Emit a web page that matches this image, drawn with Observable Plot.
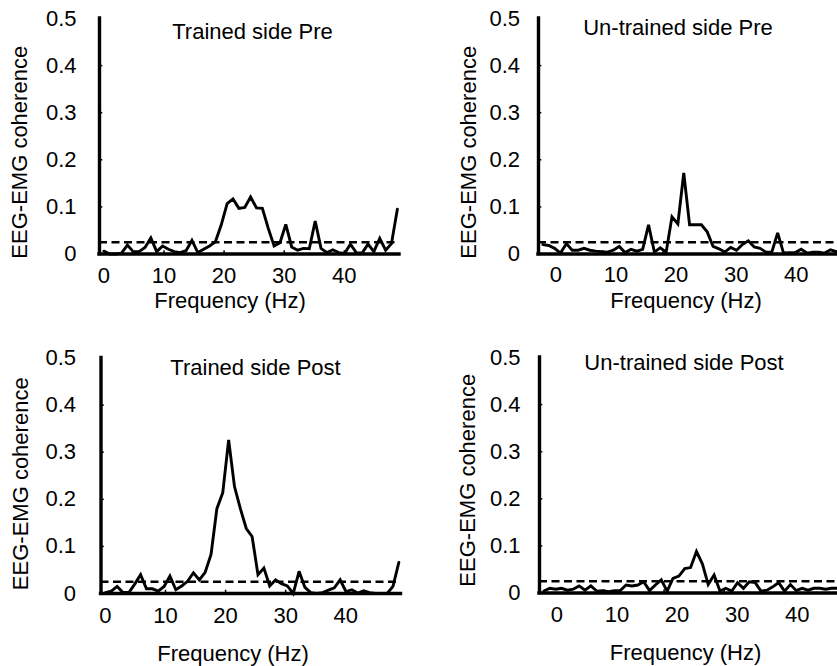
<!DOCTYPE html>
<html><head><meta charset="utf-8">
<script src="https://cdn.jsdelivr.net/npm/d3@7"></script>
<script src="https://cdn.jsdelivr.net/npm/@observablehq/plot@0.6"></script>
<style>
html,body{margin:0;padding:0;background:#fff;overflow:hidden;}
#wrap{position:relative;width:837px;height:666px;overflow:hidden;background:#fff;}
#wrap svg{position:absolute;}
</style></head><body><div id="wrap"></div>
<script>
// ---- data ----
const frequencies = [0, 0.98, 1.95, 2.93, 3.91, 4.88, 5.86, 6.84, 7.81, 8.79, 9.77, 10.74, 11.72, 12.7, 13.67, 14.65, 15.63, 16.6, 17.58, 18.55, 19.53, 20.51, 21.48, 22.46, 23.44, 24.41, 25.39, 26.37, 27.34, 28.32, 29.3, 30.27, 31.25, 32.23, 33.2, 34.18, 35.16, 36.13, 37.11, 38.09, 39.06, 40.04, 41.02, 41.99, 42.97, 43.95, 44.92, 45.9, 46.88, 47.85, 48.83];
const trainedPre = [0.006, 0, 0, 0.002, 0.019, 0.005, 0.005, 0.014, 0.034, 0.005, 0.017, 0.01, 0.005, 0.003, 0.007, 0.029, 0.003, 0.01, 0.017, 0.026, 0.062, 0.107, 0.117, 0.097, 0.099, 0.121, 0.098, 0.097, 0.055, 0.017, 0.024, 0.063, 0.015, 0.008, 0.012, 0.011, 0.07, 0.012, 0.003, 0.009, 0.003, 0.001, 0.021, 0.003, 0.002, 0.021, 0.005, 0.033, 0.008, 0.022, 0.095];
const untrainedPre = [0.02, 0.018, 0.012, 0.002, 0.022, 0.008, 0.008, 0.012, 0.008, 0.006, 0.005, 0.004, 0.008, 0.016, 0.003, 0.01, 0.006, 0.01, 0.062, 0.004, 0.013, 0.004, 0.079, 0.064, 0.172, 0.062, 0.062, 0.062, 0.047, 0.016, 0.011, 0.004, 0.014, 0.008, 0.02, 0.028, 0.015, 0.012, 0.004, 0.004, 0.045, 0.002, 0.003, 0.003, 0.01, 0.002, 0.004, 0.004, 0.002, 0.009, 0.005];
const trainedPost = [0.002, 0.005, 0.015, 0.002, 0.002, 0.02, 0.04, 0.01, 0.01, 0.005, 0.015, 0.037, 0.008, 0.016, 0.026, 0.044, 0.029, 0.045, 0.083, 0.18, 0.214, 0.326, 0.227, 0.18, 0.138, 0.121, 0.04, 0.054, 0.016, 0.029, 0.021, 0.016, 0, 0.047, 0.013, 0.002, 0, 0.002, 0.007, 0.012, 0.029, 0.004, 0.008, 0.001, 0.006, 0.002, 0, 0, 0, 0.015, 0.066];
const untrainedPost = [0.004, 0.01, 0.008, 0.01, 0.006, 0.008, 0.015, 0.006, 0.015, 0.004, 0.005, 0.003, 0.005, 0.005, 0.017, 0.015, 0.017, 0.024, 0.005, 0.017, 0.028, 0.004, 0.031, 0.036, 0.052, 0.054, 0.088, 0.062, 0.018, 0.038, 0.004, 0.01, 0.004, 0.022, 0.01, 0.024, 0.022, 0.004, 0.006, 0.013, 0.022, 0.004, 0.018, 0.005, 0.01, 0.006, 0.01, 0.01, 0.008, 0.01, 0.01];
const threshold = 0.025;
const titles = ["Trained side Pre", "Un-trained side Pre", "Trained side Post", "Un-trained side Post"];
const yTicks = [0, 0.1, 0.2, 0.3, 0.4, 0.5];
const yTickLabels = ["0", "0.1", "0.2", "0.3", "0.4", "0.5"];
const xTicks = [0, 10, 20, 30, 40];
const xTickLabels = ["0", "10", "20", "30", "40"];
const xLabel = "Frequency (Hz)";
const yLabel = "EEG-EMG coherence";

// ---- layout ----
const FONT = "Liberation Sans, Arial, sans-serif";
const FS = 22;
const PX_PER_HZ = 6.01, PLOT_W = 300, PLOT_H = 235.5;
const X0 = -0.73, X1 = X0 + PLOT_W / PX_PER_HZ;
const layouts = [
  {values: trainedPre, title: titles[0], left: 0, top: 0, mL: 99, mR: 19, mT: 18, mB: 66.5, yPad: 23, xPad: 13, xdx: 0, tdx: 3, tdy: 13, xldx: -19.5, xldy: 47, yldx: -79.5, yldy: 16},
  {values: untrainedPre, title: titles[1], left: 420, top: 0, mL: 118, mR: 0, mT: 18, mB: 66.5, yPad: 18.5, xPad: 12, xdx: 13, tdx: -10.5, tdy: 9, xldx: -2.5, xldy: 47, yldx: -70, yldy: 16},
  {values: trainedPost, title: titles[2], left: 0, top: 320, mL: 100.5, mR: 17.5, mT: 37.5, mB: 73, yPad: 25, xPad: 14, xdx: 0, tdx: 4.5, tdy: 9.5, xldx: -18, xldy: 60, yldx: -80.5, yldy: 8},
  {values: untrainedPost, title: titles[3], left: 420, top: 320, mL: 119, mR: 0, mT: 37, mB: 73.5, yPad: 19, xPad: 13, xdx: 13, tdx: -5.5, tdy: 5, xldx: -4, xldy: 59.5, yldx: -72, yldy: 5}
];

const yLab = new Map(yTicks.map((t, i) => [t, yTickLabels[i]]));
const xLab = new Map(xTicks.map((t, i) => [t, xTickLabels[i]]));
const wrap = document.getElementById("wrap");

for (const p of layouts) {
  const rows = frequencies.map((f, i) => ({f, v: p.values[i]}));
  const svg = Plot.plot({
    width: p.mL + PLOT_W + p.mR,
    height: p.mT + PLOT_H + p.mB,
    marginLeft: p.mL, marginRight: p.mR, marginTop: p.mT, marginBottom: p.mB,
    x: {domain: [X0, X1]},
    y: {domain: [0, 0.5]},
    style: {fontFamily: FONT, fontSize: FS + "px", color: "black", background: "transparent", overflow: "visible"},
    marks: [
      Plot.ruleY([threshold], {stroke: "black", strokeWidth: 2.3, strokeDasharray: "8,4.5"}),
      Plot.line(rows, {x: "f", y: "v", stroke: "black", strokeWidth: 2.9, strokeLinejoin: "miter", strokeMiterlimit: 3}),
      Plot.ruleY([0], {stroke: "black", strokeWidth: 3.4, strokeLinecap: "square"}),
      Plot.ruleX([X0], {y1: 0, y2: 0.5, stroke: "black", strokeWidth: 3.4, strokeLinecap: "square"}),
      Plot.ruleY(yTicks.slice(1, 5), {x1: X0, x2: X0 + 0.55, stroke: "black", strokeWidth: 1.5}),
      Plot.ruleX(xTicks.slice(1), {y1: 0, y2: 0.007, stroke: "black", strokeWidth: 1.5}),
      Plot.axisY(yTicks, {tickSize: 0, tickPadding: p.yPad, tickFormat: d => yLab.get(d), fontSize: FS, label: null, fill: "black"}),
      Plot.axisX(xTicks, {tickSize: 0, tickPadding: p.xPad, dx: p.xdx, tickFormat: d => xLab.get(d), fontSize: FS, label: null, fill: "black"}),
      Plot.text([p.title], {text: d => d, frameAnchor: "top", lineAnchor: "middle", dx: p.tdx, dy: p.tdy, fontSize: FS, fill: "black"}),
      Plot.text([xLabel], {text: d => d, frameAnchor: "bottom", lineAnchor: "middle", dx: p.xldx, dy: p.xldy, fontSize: FS, fill: "black"}),
      Plot.text([yLabel], {text: d => d, frameAnchor: "left", rotate: -90, lineAnchor: "middle", textAnchor: "middle", dx: p.yldx, dy: p.yldy, fontSize: FS, fill: "black"})
    ]
  });
  svg.style.position = "absolute";
  svg.style.left = p.left + "px";
  svg.style.top = p.top + "px";
  wrap.appendChild(svg);
}
</script>
</body></html>
